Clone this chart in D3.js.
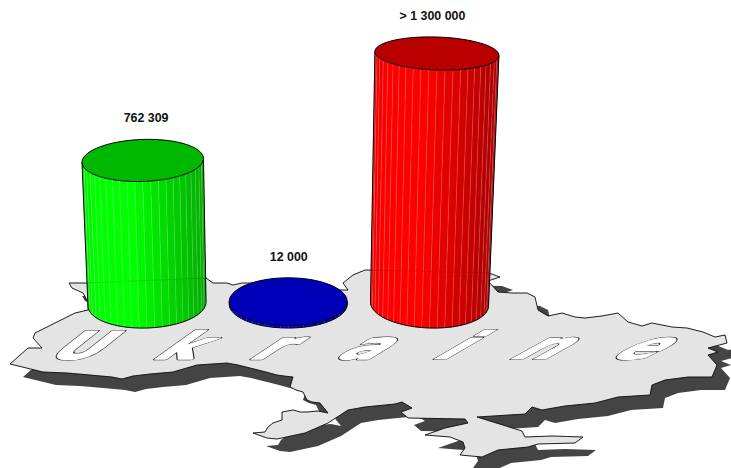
<!DOCTYPE html>
<html>
<head>
<meta charset="utf-8">
<script src="https://cdn.jsdelivr.net/npm/d3@7"></script>
<style>
  html, body { margin: 0; padding: 0; background: #fff; }
  svg { display: block; }
  .value { font: bold 12.4px "Liberation Sans", Arial, sans-serif; fill: #111; text-anchor: middle; }
  .letter { font: bold 38px "DejaVu Sans", sans-serif; vector-effect: non-scaling-stroke; stroke-linejoin: round; }
  .letter.under { fill: #222; stroke: #222; stroke-width: 4px; }
  .letter.over { fill: #fff; stroke: #fff; stroke-width: 2.2px; }
</style>
</head>
<body>
<script>
'use strict';

var categories = ["762 309", "12 000", "> 1 300 000"];
var values = [762309, 12000, 1330000];
var title = "Ukraine";

// outline of the country
var outline = [
  [10,364],[28,348],[42,348],[33,338],[35,333],[57,322],[75,313],[88,310],[88,302],[83,293],
  [72,288],[69,283],[87,283],[206,278],[213,283],[227,283],[233,285],[242,283],[260,283],[320,290],
  [348,290],[343,283],[353,275],[365,270],[489,273],[500,277],[488,281],[498,292],[512,293],[527,293],
  [535,297],[538,310],[548,316],[562,313],[575,317],[585,318],[602,316],[618,313],[628,322],[642,326],
  [652,323],[672,327],[687,328],[703,332],[715,337],[725,335],[727,343],[708,348],[718,352],[708,355],
  [717,365],[712,377],[688,377],[665,380],[652,385],[650,395],[618,397],[595,403],[565,406],[542,410],
  [532,407],[525,414],[477,417],[522,431],[525,437],[552,436],[583,437],[575,443],[538,444],[528,447],
  [498,450],[482,457],[460,455],[465,448],[463,442],[450,437],[425,435],[445,428],[468,423],[465,419],
  [408,418],[401,412],[412,408],[402,402],[395,404],[365,407],[348,410],[328,423],[305,433],[277,439],
  [267,438],[253,433],[265,432],[268,427],[273,423],[282,420],[282,412],[293,410],[300,412],[307,412],
  [318,411],[328,413],[320,403],[312,402],[307,400],[303,392],[296,390],[290,387],[293,377],[284,376],
  [277,375],[266,372],[250,368],[238,365],[227,363],[212,364],[197,365],[173,372],[150,374],[133,376],
  [122,379],[112,377],[90,375],[67,373],[43,372]
];

var width = 731, height = 468;
var baseY = 304;

var svg = d3.select("body").append("svg")
    .attr("width", width)
    .attr("height", height);

var line = d3.line().curve(d3.curveLinearClosed);

var _x = d3.scalePoint().domain(categories).range([147, 429.5]);
var _y = d3.scaleLinear().domain([0, 1330000]).range([baseY, 53.5]);
var _rx = d3.scaleLinear().domain([0, 1330000]).range([59, 62]);
var _ry = d3.scaleLinear().domain([0, 762309, 1330000]).range([24, 21, 16.5]);
var _color = d3.scaleOrdinal().domain(categories).range(["#00ff00", "#0000ff", "#ff0000"]);
var _shade = d3.scaleLinear().domain([0, 0.1, 0.4, 1]).range([0.93, 1, 1, 0.68]);

// columns lean away from the middle of the picture
var midX = (_x.range()[0] + _x.range()[1]) / 2;
var lean = 0.00021, tilt = 0.00022;

function ringPoint(cat, v, angle) {
  var bx = _x(cat);
  var cx = bx + (bx - midX) * lean * (baseY - _y(v));
  var dx = _rx(v) * Math.cos(angle);
  return [cx + dx,
          _y(v) + _ry(v) * Math.sin(angle) + dx * (bx - midX) * tilt];
}

function shaded(cat, k) {
  var c = d3.rgb(_color(cat));
  return d3.rgb(c.r * k, c.g * k, c.b * k).toString();
}

// 0 at the left edge of a column, 1 at the right edge
function facetColor(f) {
  var pos = (1 + Math.cos((f.a0 + f.a1) / 2)) / 2;
  return shaded(f.cat, _shade(pos));
}

// map and its shadow
svg.append("path")
    .attr("d", line(outline))
    .attr("transform", "translate(13,13)")
    .attr("fill", "#444");

svg.append("path")
    .attr("d", line(outline))
    .attr("fill", "#e4e4e4")
    .attr("stroke", "#111")
    .attr("stroke-width", 0.9)
    .attr("stroke-linejoin", "round");

// country name, one sheared letter at a time
var _shear = d3.scaleLinear().domain([45, 622]).range([1.27, 1.95]);
var stretch = 1.6, gap = 56;
var penX = 45;
title.split("").forEach(function(ch) {
  var adv = 0;
  ["under", "over"].forEach(function(layer) {
    var t = svg.append("text").attr("class", "letter " + layer).text(ch);
    adv = t.node().getComputedTextLength() * stretch;
    t.attr("transform", "translate(" + penX + ",359) matrix(" + stretch + ",0," + (-_shear(penX)) + ",1,0,0)");
  });
  penX += adv + gap;
});

// columns
var nFacets = 24;
var facets = d3.range(nFacets).map(function(i) {
  return {a0: Math.PI - i * Math.PI / nFacets, a1: Math.PI - (i + 1) * Math.PI / nFacets};
});

var col = svg.selectAll("g.column")
    .data(categories.map(function(c, i) { return {cat: c, v: values[i]}; }))
    .enter().append("g")
    .attr("class", "column");

var facet = col.selectAll("g.facet")
    .data(function(d) { return facets.map(function(f) { return {cat: d.cat, v: d.v, a0: f.a0, a1: f.a1}; }); })
    .enter().append("g")
    .attr("class", "facet");

facet.append("path")
    .attr("d", function(f) {
      return line([ringPoint(f.cat, 0, f.a0), ringPoint(f.cat, 0, f.a1),
                   ringPoint(f.cat, f.v, f.a1), ringPoint(f.cat, f.v, f.a0)]);
    })
    .attr("fill", facetColor)
    .attr("stroke", facetColor)
    .attr("stroke-width", 0.3);

// light seam between facets
facet.append("path")
    .attr("d", function(f) {
      return d3.line()([ringPoint(f.cat, 0, f.a0), ringPoint(f.cat, f.v, f.a0)]);
    })
    .attr("stroke", "#fff")
    .attr("stroke-opacity", 0.22)
    .attr("stroke-width", 0.8);

// black silhouette of the side
col.append("path")
    .attr("d", function(d) {
      var bottom = d3.range(0, 49).map(function(i) { return ringPoint(d.cat, 0, Math.PI - i * Math.PI / 48); });
      return d3.line()([ringPoint(d.cat, d.v, Math.PI)].concat(bottom, [ringPoint(d.cat, d.v, 0)]));
    })
    .attr("fill", "none")
    .attr("stroke", "#000")
    .attr("stroke-width", 1);

// lid
col.append("path")
    .attr("d", function(d) {
      return line(d3.range(72).map(function(i) { return ringPoint(d.cat, d.v, i * Math.PI / 36); }));
    })
    .attr("fill", function(d) { return shaded(d.cat, 0.72); })
    .attr("stroke", "#000")
    .attr("stroke-width", 1);

// the map edge shows faintly through the columns
svg.append("path")
    .attr("d", line(outline))
    .attr("fill", "none")
    .attr("stroke", "#000")
    .attr("stroke-opacity", 0.12)
    .attr("stroke-width", 0.8);

col.append("text")
    .attr("class", "value")
    .attr("x", function(d) { return (2 * _x(d.cat) + ringPoint(d.cat, d.v, 0)[0] - _rx(d.v)) / 3 + 0.5; })
    .attr("y", function(d) { return _y(d.v) - _ry(d.v) - 17; })
    .text(function(d) { return d.cat; });
</script>
</body>
</html>
